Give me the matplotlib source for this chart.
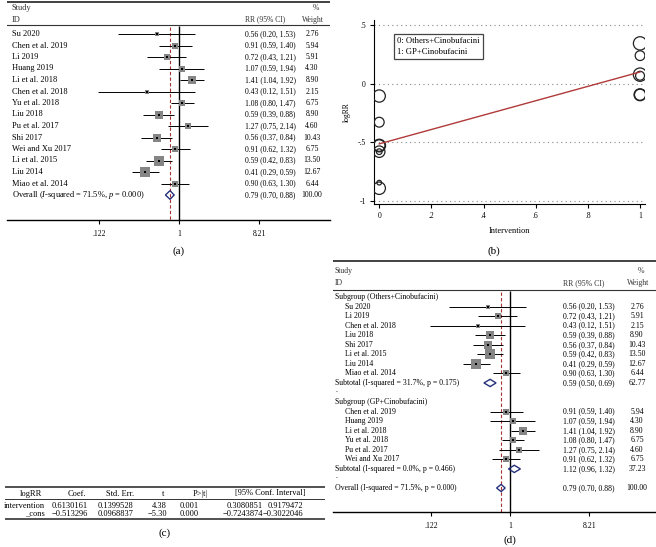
import numpy as np
import matplotlib
matplotlib.use('Agg')
import matplotlib.pyplot as plt
import matplotlib.transforms as mtransforms

plt.rcParams['font.family'] = ['Liberation Serif', 'DejaVu Serif']
plt.rcParams['mathtext.fontset'] = 'custom'
plt.rcParams['mathtext.rm'] = 'Liberation Serif'
plt.rcParams['mathtext.it'] = 'Liberation Serif:italic'

# study data (RR, 95% CI, % weight, subgroup 0 = Others+Cinobufacini, 1 = GP+Cinobufacini)
studies = ['Su 2020', 'Chen et al. 2019', 'Li 2019', 'Huang 2019', 'Li et al. 2018',
           'Chen et al. 2018', 'Yu et al. 2018', 'Liu 2018', 'Pu et al. 2017', 'Shi 2017',
           'Wei and Xu 2017', 'Li et al. 2015', 'Liu 2014', 'Miao et al. 2014']
rr = [0.56, 0.91, 0.72, 1.07, 1.41, 0.43, 1.08, 0.59, 1.27, 0.56, 0.91, 0.59, 0.41, 0.90]
lo = [0.20, 0.59, 0.43, 0.59, 1.04, 0.12, 0.80, 0.39, 0.75, 0.37, 0.62, 0.42, 0.29, 0.63]
hi = [1.53, 1.40, 1.21, 1.94, 1.92, 1.51, 1.47, 0.88, 2.14, 0.84, 1.32, 0.83, 0.59, 1.30]
weight = [2.76, 5.94, 5.91, 4.30, 8.90, 2.15, 6.75, 8.90, 4.60, 10.43, 6.75, 13.50, 12.67, 6.44]
group = [0, 1, 0, 1, 1, 0, 1, 0, 1, 0, 1, 0, 0, 0]

overall = (0.79, 0.70, 0.88, 100.00)
subtotals = [(0.59, 0.50, 0.69, 62.77), (1.12, 0.96, 1.32, 37.23)]
subtotal_labels = ['Subtotal (I-squared = 31.7%, p = 0.175)', 'Subtotal (I-squared = 0.0%, p = 0.466)']
subgroup_labels = ['Subgroup (Others+Cinobufacini)', 'Subgroup (GP+Cinobufacini)']
forest_ticks = [0.122, 1, 8.21]
forest_ticklabels = ['.122', '1', '8.21']

# meta-regression
reg_coef = -0.513296, 0.6130161  # _cons, intervention
tau2 = 0.03  # between-study variance used for bubble weights
b_yticks = [0.5, 0, -0.5, -1]
b_yticklabels = ['.5', '0', '-.5', '-1']
b_xticks = [0, 0.2, 0.4, 0.6, 0.8, 1]
b_xticklabels = ['0', '.2', '.4', '.6', '.8', '1']
legend_lines = ['0: Others+Cinobufacini', '1: GP+Cinobufacini']

# regression table
table_header = ['logRR', 'Coef.', 'Std. Err.', 't', 'P>|t|', '[95% Conf. Interval]']
table_rows = [
    ['intervention', '0.6130161', '0.1399528', '4.38', '0.001', '0.3080851', '0.9179472'],
    ['_cons', '\u22120.513296', '0.0968837', '\u22125.30', '0.000', '\u22120.7243874', '\u22120.3022046'],
]

W, H = 656, 547
fig = plt.figure(figsize=(W / 100, H / 100), dpi=100)


def px_axes(x0, y0, x1, y1):
    return fig.add_axes([x0 / W, 1 - y1 / H, (x1 - x0) / W, (y1 - y0) / H])


SQ = '#858585'
RED = '#a83232'
NAVY = '#26307a'


def forest(ax, x0, x1, one_px, px_ln, y0, y1, row0, step, rows, fs, nfs, hdr):
    # hdr: pixel y of top rule, Study, ID, second rule ; x of name, indent, rr col, weight col
    idx = lambda p: (p - row0) / step
    fx = lambda p: (p - x0) / (x1 - x0)
    ax.set_xscale('log')
    ax.set_xlim(np.exp((x0 - one_px) / px_ln), np.exp((x1 - one_px) / px_ln))
    ax.set_ylim(idx(y1), idx(y0))
    for s in ['top', 'left', 'right']:
        ax.spines[s].set_visible(False)
    ax.spines['bottom'].set_linewidth(1.0)
    ax.set_yticks([])
    ax.set_xticks(forest_ticks)
    ax.set_xticklabels(forest_ticklabels, fontsize=nfs)
    ax.minorticks_off()
    ax.tick_params(axis='x', length=3, width=0.8, pad=4)
    tr = mtransforms.blended_transform_factory(ax.transAxes, ax.transData)

    t_rule, t_study, t_id, t_rule2, xn, xind, xrr, xw = hdr
    ax.axhline(idx(t_rule), color='#333333', lw=1.3)
    ax.axhline(idx(t_rule2), color='#333333', lw=0.8)
    ax.text(fx(xn), idx(t_study), 'Study', transform=tr, fontsize=fs, va='center', color='#333')
    ax.text(fx(xn), idx(t_id), 'ID', transform=tr, fontsize=fs, va='center', color='#333')
    ax.text(fx(xrr), idx(t_id), 'RR (95% CI)', transform=tr, fontsize=nfs, va='center', color='#333')
    ax.text(fx(xw + 4), idx(t_study), '%', transform=tr, fontsize=nfs, va='center', ha='center', color='#333')
    ax.text(fx(xw + 1), idx(t_id), 'Weight', transform=tr, fontsize=nfs, va='center', ha='center', color='#333')

    for i, r in enumerate(rows):
        kind = r[0]
        if kind == 'study':
            _, name, e, l, h, w = r
            ax.hlines(i, l, h, color='black', lw=0.7, zorder=2)
            ax.scatter([e], [i], marker='s', s=3.6 * w, color=SQ, zorder=3, linewidths=0)
            ax.scatter([e], [i], marker='s', s=3.0, color='black', zorder=4, linewidths=0)
            ax.text(fx(xind), i, name, transform=tr, fontsize=fs, va='center')
        elif kind in ('sub', 'overall'):
            _, name, e, l, h, w = r
            ax.fill([l, e, h, e, l], [i, i - 0.38, i, i + 0.38, i], fill=False,
                    edgecolor=NAVY, lw=1.0, zorder=4)
            ax.text(fx(xn), i, name, transform=tr, fontsize=fs, va='center')
        elif kind == 'group':
            ax.text(fx(xn), i, r[1], transform=tr, fontsize=fs, va='center')
            continue
        else:
            ax.text(fx(xn), i - 0.3, '.', transform=tr, fontsize=fs, va='center')
            continue
        ax.text(fx(xrr), i, '%.2f (%.2f, %.2f)' % (e, l, h), transform=tr, fontsize=nfs, va='center')
        ax.text(fx(xw), i, '%.2f' % w, transform=tr, fontsize=nfs, va='center', ha='center')

    ybot = idx(y1)
    ax.vlines(1, idx(t_rule2 + 1), ybot, color='black', lw=1.0, zorder=1)
    ax.vlines(overall[0], idx(t_rule2 + 2), ybot, color=RED, lw=0.8,
              linestyles=(0, (3, 2)), zorder=1)


# ---- (a) overall forest plot
rows_a = [('study', studies[i], rr[i], lo[i], hi[i], weight[i]) for i in range(len(studies))]
rows_a.append(('overall', r'Overall ($\mathit{I}$-squared = 71.5%, $\mathit{p}$ = 0.000)') + overall)
ax_a = px_axes(7, 0, 330, 220)
forest(ax_a, 7, 330, 179, 38.0, 0, 220, 34, 11.5, rows_a, 6.0, 5.5,
       (2, 8, 19.5, 25, 12, 12, 245, 312))
fig.text(179 / W, 1 - 251 / H, '(a)', fontsize=8, ha='center', va='center')

# ---- (d) subgroup forest plot
rows_d = []
for g in (0, 1):
    rows_d.append(('group', subgroup_labels[g]))
    for i in range(len(studies)):
        if group[i] == g:
            rows_d.append(('study', studies[i], rr[i], lo[i], hi[i], weight[i]))
    rows_d.append(('sub', subtotal_labels[g]) + subtotals[g])
    rows_d.append(('dot',))
rows_d.append(('overall', 'Overall (I-squared = 71.5%, p = 0.000)') + overall)
ax_d = px_axes(333, 256, 656, 512)
forest(ax_d, 333, 656, 510, 37.6, 256, 512, 297, 9.55, rows_d, 5.6, 5.6,
       (261, 271, 283, 290, 335, 345, 563, 637))
fig.text(510 / W, 1 - 540 / H, '(d)', fontsize=8, ha='center', va='center')

# ---- (b) meta-regression bubble plot
ax_b = px_axes(374, 20, 645, 204)
logrr = np.log(rr)
se = (np.log(hi) - np.log(lo)) / 3.92
bw = 1 / (se ** 2 + tau2)
r_px = 6.2 * np.sqrt(bw / bw[studies.index('Liu 2014')])
ax_b.scatter(group, logrr, s=(1.44 * r_px) ** 2, facecolors='none',
             edgecolors='#222222', linewidths=0.9, zorder=3)
xs = np.array([0, 1])
ax_b.plot(xs, reg_coef[0] + reg_coef[1] * xs, color='#b03a3a', lw=1.0, zorder=4)
ax_b.set_xlim(-0.02, 1.019)
ax_b.set_ylim(-1.026, 0.543)
ax_b.set_yticks(b_yticks)
ax_b.set_yticklabels(b_yticklabels, fontsize=5.5)
ax_b.set_xticks(b_xticks)
ax_b.set_xticklabels(b_xticklabels, fontsize=5.5)
ax_b.tick_params(length=3, width=0.8, pad=3)
for yv in b_yticks:
    ax_b.axhline(yv, color='#888888', lw=0.8, linestyle=(0, (1, 3)), zorder=1)
ax_b.spines['top'].set_visible(False)
ax_b.spines['right'].set_visible(False)
ax_b.set_ylabel('logRR', fontsize=5.5, labelpad=5)
ax_b.set_xlabel('Intervention', fontsize=6, labelpad=5)
ax_b.text(0.085, 0.905, '\n'.join(legend_lines), transform=ax_b.transAxes, fontsize=6.2,
          va='top', ha='left', linespacing=1.35,
          bbox=dict(boxstyle='square,pad=0.35', fc='white', ec='#444444', lw=0.9))
fig.text(494 / W, 1 - 251 / H, '(b)', fontsize=8, ha='center', va='center')

# ---- (c) regression table
ax_c = px_axes(5, 484, 325, 522)
ax_c.set_xlim(5, 325)
ax_c.set_ylim(522, 484)
ax_c.axis('off')
ax_c.axhline(487, color='#333333', lw=1.2)
ax_c.axhline(499, color='#333333', lw=0.7)
ax_c.axhline(519, color='#333333', lw=1.2)
hdr_x = [42, 77, 120, 163, 200, 270]
hdr_ha = ['right', 'center', 'center', 'center', 'center', 'center']
for x, s, ha in zip(hdr_x, table_header, hdr_ha):
    ax_c.text(x, 493.5, s, fontsize=6, ha=ha, va='center')
col_x = [45, 88, 133, 167, 199, 263, 303]
for ry, row in zip([505.5, 513.5], table_rows):
    for x, s in zip(col_x, row):
        ax_c.text(x, ry, s, fontsize=6, ha='right', va='center')
fig.text(165 / W, 1 - 533 / H, '(c)', fontsize=8, ha='center', va='center')

fig.savefig('out.png', dpi=100)
